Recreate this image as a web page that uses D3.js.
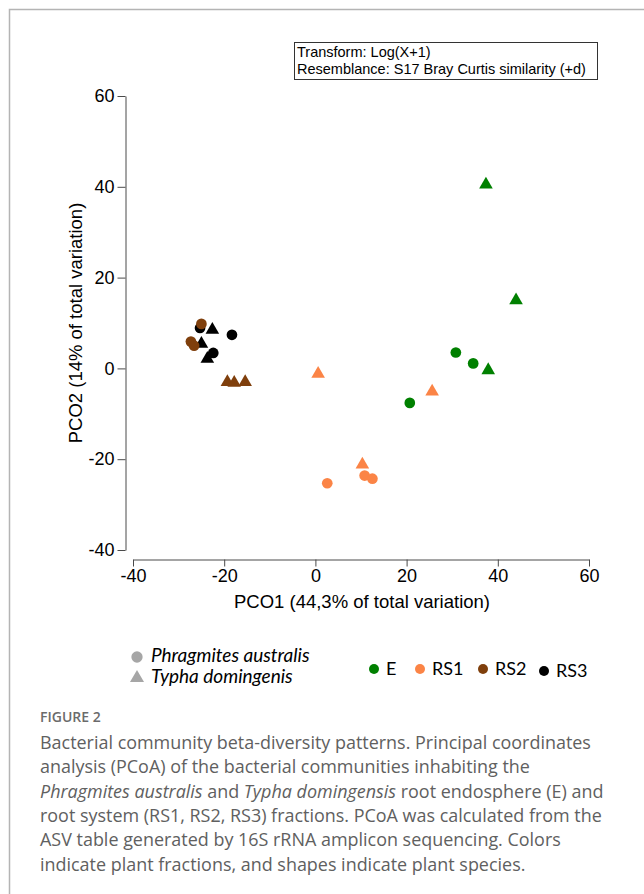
<!DOCTYPE html>
<html>
<head>
<meta charset="utf-8">
<script src="https://cdn.jsdelivr.net/npm/d3@7"></script>
<style>
  body { margin: 0; background: #fff; }
  svg { display: block; }
</style>
</head>
<body>
<svg id="chart"></svg>
<script>
// groups (plant fractions) and their colours
const groups = ["E", "RS1", "RS2", "RS3"];
const groupColors = ["#008000", "#fb8446", "#7f3f0c", "#000000"];

// plant species (shape legend)
const species = ["Phragmites australis", "Typha domingenis"];

// PCO1 / PCO2 scores
const ePhragmites = [[30.8, 3.5], [34.6, 1.1], [20.7, -7.6]];
const eTypha = [[37.4, 40.5], [44.0, 15.0], [37.9, -0.4]];
const rs1Phragmites = [[2.6, -25.3], [10.8, -23.6], [12.5, -24.3]];
const rs1Typha = [[0.6, -1.2], [25.6, -5.1], [10.3, -21.2]];
const rs2Phragmites = [[-25.0, 9.8], [-27.3, 5.9], [-26.6, 5.0]];
const rs2Typha = [[-19.3, -3.0], [-17.8, -3.2], [-15.4, -3.0]];
const rs3Phragmites = [[-25.3, 8.9], [-18.3, 7.4], [-22.4, 3.4]];
const rs3Typha = [[-22.6, 8.5], [-25.0, 5.4], [-23.7, 2.1]];

const xTicks = [-40, -20, 0, 20, 40, 60];
const yTicks = [-40, -20, 0, 20, 40, 60];

const infoLines = ["Transform: Log(X+1)", "Resemblance: S17 Bray Curtis similarity (+d)"];

const captionLines = [
  [["Bacterial community beta-diversity patterns. Principal coordinates", false]],
  [["analysis (PCoA) of the bacterial communities inhabiting the", false]],
  [["Phragmites australis", true], [" and ", false], ["Typha domingensis", true], [" root endosphere (E) and", false]],
  [["root system (RS1, RS2, RS3) fractions. PCoA was calculated from the", false]],
  [["ASV table generated by 16S rRNA amplicon sequencing. Colors", false]],
  [["indicate plant fractions, and shapes indicate plant species.", false]]
];

// build point table (RS3 first so browns / greens sit on top like the original)
const points = [];
function addPoints(arr, group, sp) {
  arr.forEach(d => points.push({ x: d[0], y: d[1], group, species: sp }));
}
addPoints(rs3Phragmites, "RS3", species[0]);
addPoints(rs3Typha, "RS3", species[1]);
addPoints(rs2Phragmites, "RS2", species[0]);
addPoints(rs2Typha, "RS2", species[1]);
addPoints(rs1Phragmites, "RS1", species[0]);
addPoints(rs1Typha, "RS1", species[1]);
addPoints(ePhragmites, "E", species[0]);
addPoints(eTypha, "E", species[1]);

const width = 644;
const height = 894;

const svg = d3.select("#chart")
  .attr("width", width)
  .attr("height", height);

// frame round the figure
svg.append("rect")
  .attr("x", 9.5)
  .attr("y", 9.5)
  .attr("width", 800)
  .attr("height", 1000)
  .attr("fill", "none")
  .attr("stroke", "#b4b4b4")
  .attr("stroke-width", 1.5);

const x = d3.scaleLinear().domain([-40, 60]).range([133, 589]);
const y = d3.scaleLinear().domain([-40, 60]).range([550, 96]);

const color = d3.scaleOrdinal().domain(groups).range(groupColors);
const shape = d3.scaleOrdinal().domain(species).range([d3.symbolCircle, d3.symbolTriangle]);
const shapeSize = d3.scaleOrdinal().domain(species).range([90, 80]);

const axisFont = "'Liberation Sans', Arial, sans-serif";

// y axis
svg.append("g")
  .attr("transform", "translate(125.5,0)")
  .call(d3.axisLeft(y).tickValues(yTicks).tickFormat(d => String(d))
    .tickSize(8).tickSizeOuter(0).tickPadding(3))
  .call(g => g.selectAll("path, line").attr("stroke", "#4a4a4a"))
  .call(g => g.selectAll("text")
    .attr("font-family", axisFont)
    .attr("font-size", 18)
    .attr("fill", "#000"));

// x axis
svg.append("g")
  .attr("transform", "translate(0,559.5)")
  .call(d3.axisBottom(x).tickValues(xTicks).tickFormat(d => String(d))
    .tickSize(7).tickSizeOuter(0).tickPadding(3))
  .call(g => g.selectAll("path, line").attr("stroke", "#4a4a4a"))
  .call(g => g.selectAll("text")
    .attr("font-family", axisFont)
    .attr("font-size", 18)
    .attr("fill", "#000"));

// axis titles
svg.append("text")
  .attr("x", 362)
  .attr("y", 608)
  .attr("text-anchor", "middle")
  .attr("font-family", axisFont)
  .attr("font-size", 18.5)
  .text("PCO1 (44,3% of total variation)");

svg.append("text")
  .attr("transform", "translate(82,323) rotate(-90)")
  .attr("text-anchor", "middle")
  .attr("font-family", axisFont)
  .attr("font-size", 18.5)
  .text("PCO2 (14% of total variation)");

// info box
svg.append("rect")
  .attr("x", 294.5)
  .attr("y", 42.5)
  .attr("width", 303)
  .attr("height", 37)
  .attr("fill", "#fff")
  .attr("stroke", "#333");

svg.append("g")
  .selectAll("text")
  .data(infoLines)
  .join("text")
    .attr("x", 297)
    .attr("y", (d, i) => 57 + i * 17)
    .attr("font-family", axisFont)
    .attr("font-size", 14.5)
    .text(d => d);

// points
svg.append("g")
  .selectAll("path")
  .data(points)
  .join("path")
    .attr("transform", d => `translate(${x(d.x)},${y(d.y)})`)
    .attr("d", d => d3.symbol(shape(d.species), shapeSize(d.species))())
    .attr("fill", d => color(d.group));

// shape legend
const legendFont = "Lato, 'Open Sans', sans-serif";
const shapeLegend = svg.append("g");
species.forEach((s, i) => {
  const cy = 657 + i * 21;
  shapeLegend.append("path")
    .attr("transform", `translate(137,${cy})`)
    .attr("d", d3.symbol(shape(s), i === 0 ? 100 : 85)())
    .attr("fill", "#a6a6a6");
  shapeLegend.append("text")
    .attr("x", 151)
    .attr("y", cy + 5)
    .attr("font-family", legendFont)
    .attr("font-style", "italic")
    .attr("font-size", 19)
    .text(s);
});

// colour legend
const colorLegendX = [374, 420, 483, 544];
const colorLegend = svg.append("g");
groups.forEach((gname, i) => {
  const cy = i === 3 ? 671 : 669;
  colorLegend.append("circle")
    .attr("cx", colorLegendX[i])
    .attr("cy", cy)
    .attr("r", 5)
    .attr("fill", color(gname));
  colorLegend.append("text")
    .attr("x", colorLegendX[i] + 12)
    .attr("y", cy + 6)
    .attr("font-family", legendFont)
    .attr("font-size", 18)
    .text(gname);
});

// caption
const capFont = "'Open Sans', 'Noto Sans', sans-serif";
svg.append("text")
  .attr("x", 40)
  .attr("y", 722)
  .attr("font-family", capFont)
  .attr("font-size", 14)
  .attr("font-weight", 600)
  .attr("fill", "#6b6b6b")
  .text("FIGURE 2");

const caption = svg.append("g")
  .attr("font-family", capFont)
  .attr("fill", "#606060");

captionLines.forEach((parts, i) => {
  const t = caption.append("text")
    .attr("x", 40)
    .attr("y", 749 + i * 24.3)
    .attr("font-size", 16.5);
  parts.forEach(p => {
    t.append("tspan")
      .attr("font-style", p[1] ? "italic" : "normal")
      .text(p[0]);
  });
});

// fit caption size so the first line runs to the same width as the original
const firstLine = caption.select("text").node();
const w = firstLine.getComputedTextLength();
const fitted = 16.5 * 551 / w;
caption.selectAll("text").attr("font-size", fitted);
</script>
</body>
</html>
